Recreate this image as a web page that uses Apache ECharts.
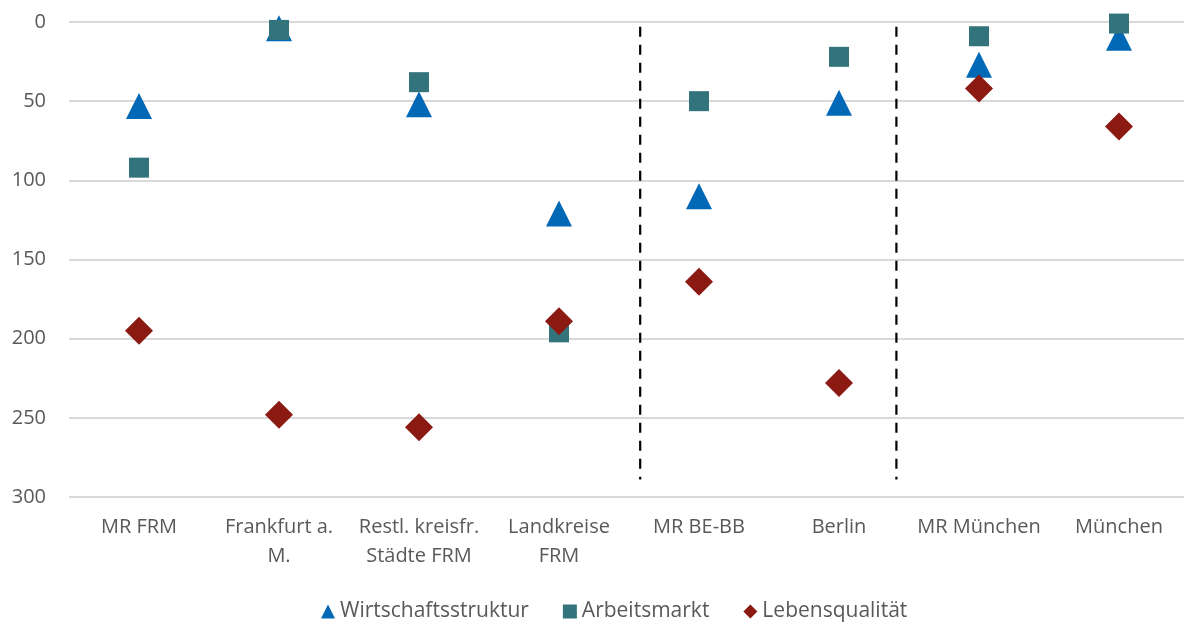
<!DOCTYPE html>
<html><head><meta charset="utf-8">
<script src="https://cdn.jsdelivr.net/npm/echarts@6/dist/echarts.min.js"></script>
<style>html,body{margin:0;padding:0;background:#fff}#c{width:1184px;height:622px}</style>
</head><body><div id="c"></div>
<script>
const categories = ["MR FRM","Frankfurt a. M.","Restl. kreisfr. Städte FRM","Landkreise FRM","MR BE-BB","Berlin","MR München","München"];
const tickLabels = ["MR FRM","Frankfurt a.\nM.","Restl. kreisfr.\nStädte FRM","Landkreise\nFRM","MR BE-BB","Berlin","MR München","München"];
const wirtschaftsstruktur = [53, 4, 52, 121, 110, 51, 27, 10];
const arbeitsmarkt = [92, 5, 38, 196, 50, 22, 9, 1];
const lebensqualitaet = [195, 248, 256, 189, 164, 228, 42, 66];
const yTicks = [0, 50, 100, 150, 200, 250, 300];
const separatorX = [4.08, 5.91];
const separatorY = [3, 289];

const font = "'Open Sans', 'Noto Sans', sans-serif";
const chart = echarts.init(document.getElementById('c'));
const sepSeries = separatorX.map(x => ({
  type: 'line', xAxisIndex: 1, yAxisIndex: 0, silent: true, symbol: 'none',
  data: [[x, separatorY[0]], [x, separatorY[1]]],
  lineStyle: {color: '#000', width: 2.2, type: [10, 8]}, z: 1
}));
chart.setOption({
  animation: false,
  textStyle: {fontFamily: font},
  grid: {left: 69, top: 22, width: 1120, bottom: 125, outerBoundsMode: 'none', containLabel: false},
  legend: {
    top: 596, left: 316, itemGap: 34, itemWidth: 14, itemHeight: 14,
    textStyle: {fontSize: 21, color: '#595959', fontFamily: font},
    data: [
      {name: 'Wirtschaftsstruktur', icon: 'triangle'},
      {name: 'Arbeitsmarkt', icon: 'rect'},
      {name: 'Lebensqualität', icon: 'diamond'}
    ]
  },
  xAxis: [{
    type: 'category', data: categories, boundaryGap: true,
    axisLine: {show: false}, axisTick: {show: false},
    axisLabel: {
      interval: 0, margin: 16, fontSize: 20, color: '#595959', lineHeight: 29,
      formatter: (v, i) => tickLabels[i]
    }
  }, {
    type: 'value', min: 0, max: 8, show: false
  }],
  yAxis: {
    type: 'value', inverse: true, min: yTicks[0], max: yTicks[yTicks.length - 1], interval: 50,
    axisLine: {show: false}, axisTick: {show: false},
    axisLabel: {fontSize: 20, color: '#595959', margin: 23},
    splitLine: {lineStyle: {color: '#D9D9D9', width: 2}}
  },
  series: [
    ...sepSeries,
    {name: 'Wirtschaftsstruktur', type: 'scatter', data: wirtschaftsstruktur, symbol: 'triangle', symbolSize: 26,
     itemStyle: {color: '#0068B5', opacity: 1}, z: 3},
    {name: 'Arbeitsmarkt', type: 'scatter', data: arbeitsmarkt, symbol: 'rect', symbolSize: 20,
     itemStyle: {color: '#33737C', opacity: 1}, z: 4},
    {name: 'Lebensqualität', type: 'scatter', data: lebensqualitaet, symbol: 'diamond', symbolSize: 28,
     itemStyle: {color: '#8A1A12', opacity: 1}, z: 5}
  ]
});
</script></body></html>
